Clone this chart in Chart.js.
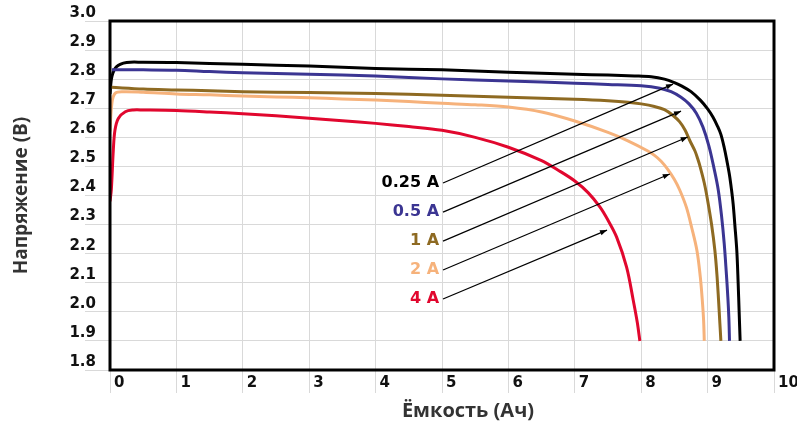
<!DOCTYPE html>
<html>
<head>
<meta charset="utf-8">
<script src="https://cdn.jsdelivr.net/npm/chart.js@4.4.1/dist/chart.umd.min.js"></script>
<style>
  html, body { margin: 0; padding: 0; background: #ffffff; }
  #wrap { width: 797px; height: 425px; }
</style>
</head>
<body>
<div id="wrap"><canvas id="c" width="797" height="425"></canvas></div>
<script>
// ---- Data ----
const seriesLabels = ['0.25 A', '0.5 A', '1 A', '2 A', '4 A'];
const seriesColors = ['#000000', '#3b3592', '#8e6a22', '#f6b27b', '#e1072e'];

const cap025 = [0, 0.03, 0.1, 0.25, 0.5, 1, 2, 3, 4, 5, 6, 7, 7.5, 7.9, 8.15, 8.35, 8.5, 8.62, 8.75, 8.89, 9.0, 9.08, 9.15, 9.2, 9.25, 9.29, 9.33, 9.36, 9.385, 9.41, 9.44, 9.46, 9.475, 9.49];
const volt025 = [2.75, 2.81, 2.843, 2.857, 2.858, 2.857, 2.851, 2.845, 2.837, 2.832, 2.824, 2.817, 2.814, 2.811, 2.808, 2.80, 2.788, 2.775, 2.757, 2.728, 2.698, 2.67, 2.638, 2.61, 2.565, 2.52, 2.47, 2.42, 2.37, 2.30, 2.21, 2.10, 2.00, 1.90];

const cap05 = [0.03, 0.5, 1, 1.5, 2, 3, 4, 5, 6, 7, 7.5, 8.0, 8.28, 8.45, 8.6, 8.72, 8.83, 8.93, 9.02, 9.1, 9.16, 9.21, 9.25, 9.28, 9.305, 9.32, 9.33];
const volt05 = [2.832, 2.832, 2.831, 2.826, 2.822, 2.817, 2.811, 2.801, 2.794, 2.786, 2.782, 2.777, 2.769, 2.757, 2.738, 2.715, 2.683, 2.635, 2.57, 2.49, 2.42, 2.33, 2.235, 2.14, 2.05, 1.98, 1.90];

const cap1 = [0.02, 0.5, 1, 1.5, 2, 3, 4, 5, 6, 7, 7.5, 7.8, 8.0, 8.2, 8.35, 8.48, 8.58, 8.66, 8.73, 8.81, 8.85, 8.89, 8.95, 9.0, 9.06, 9.11, 9.14, 9.165, 9.185, 9.2];
const volt1 = [2.772, 2.766, 2.763, 2.76, 2.757, 2.754, 2.751, 2.745, 2.738, 2.731, 2.726, 2.721, 2.715, 2.706, 2.695, 2.675, 2.653, 2.625, 2.59, 2.553, 2.527, 2.497, 2.443, 2.384, 2.30, 2.21, 2.13, 2.04, 1.96, 1.90];

const cap2 = [0, 0.03, 0.08, 0.2, 0.5, 1, 1.5, 2, 2.5, 3, 3.5, 4, 4.5, 5, 5.5, 6, 6.5, 7, 7.5, 7.8, 8.1, 8.2, 8.3, 8.4, 8.5, 8.58, 8.68, 8.76, 8.84, 8.89, 8.92, 8.94, 8.95];
const volt2 = [2.62, 2.72, 2.752, 2.757, 2.755, 2.749, 2.746, 2.742, 2.739, 2.736, 2.732, 2.728, 2.723, 2.717, 2.712, 2.704, 2.687, 2.656, 2.617, 2.588, 2.553, 2.538, 2.518, 2.49, 2.455, 2.419, 2.36, 2.29, 2.21, 2.12, 2.04, 1.97, 1.90];

const cap4 = [0, 0.02, 0.05, 0.075, 0.125, 0.23, 0.35, 0.5, 1, 1.5, 2, 2.5, 3, 3.5, 4, 4.5, 5, 5.5, 6, 6.5, 6.75, 7, 7.2, 7.38, 7.5, 7.63, 7.78, 7.88, 7.94, 7.98];
const volt4 = [2.38, 2.42, 2.557, 2.625, 2.665, 2.688, 2.694, 2.694, 2.692, 2.687, 2.681, 2.674, 2.666, 2.657, 2.648, 2.637, 2.624, 2.600, 2.566, 2.52, 2.487, 2.45, 2.41, 2.36, 2.315, 2.257, 2.154, 2.04, 1.965, 1.90];

// Callout label anchors (data coords) and arrow tips (data coords)
const calloutStartX = [4.955, 4.955, 4.955, 4.955, 4.955];
const calloutStartY = [2.443, 2.343, 2.243, 2.144, 2.044];
const calloutEndX = [8.48, 8.60, 8.70, 8.43, 7.485];
const calloutEndY = [2.783, 2.690, 2.601, 2.474, 2.281];

const yTicksMin = 1.8, yTicksMax = 3.0, yStep = 0.1;
const xTicksMin = 0, xTicksMax = 10, xStep = 1;

const xTitle = 'Ёмкость (Ач)';
const yTitle = 'Напряжение (В)';

// ---- Build datasets ----
const caps = [cap025, cap05, cap1, cap2, cap4];
const volts = [volt025, volt05, volt1, volt2, volt4];
const datasets = caps.map((cx, i) => ({
  label: seriesLabels[i],
  data: cx.map((x, j) => ({ x: x, y: volts[i][j] })),
  borderColor: seriesColors[i],
  backgroundColor: seriesColors[i],
  borderWidth: 3,
  pointRadius: 0,
  fill: false,
  tension: 0.35
})).reverse();

const calloutPlugin = {
  id: 'callouts',
  afterDatasetsDraw(chart) {
    const { ctx, scales: { x, y }, chartArea } = chart;
    ctx.save();
    // plot border
    ctx.strokeStyle = '#000';
    ctx.lineWidth = 3;
    ctx.strokeRect(chartArea.left, chartArea.top, chartArea.right - chartArea.left, chartArea.bottom - chartArea.top);
    for (let i = 0; i < seriesLabels.length; i++) {
      const sx = x.getPixelForValue(calloutStartX[i]);
      const sy = y.getPixelForValue(calloutStartY[i]);
      const ex = x.getPixelForValue(calloutEndX[i]);
      const ey = y.getPixelForValue(calloutEndY[i]);
      ctx.strokeStyle = '#000';
      ctx.fillStyle = '#000';
      ctx.lineWidth = 1.2;
      ctx.beginPath();
      ctx.moveTo(sx + 4, sy);
      ctx.lineTo(ex, ey);
      ctx.stroke();
      const ang = Math.atan2(ey - sy, ex - sx);
      const L = 7, W = 2.6;
      ctx.beginPath();
      ctx.moveTo(ex, ey);
      ctx.lineTo(ex - L * Math.cos(ang) + W * Math.sin(ang), ey - L * Math.sin(ang) - W * Math.cos(ang));
      ctx.lineTo(ex - L * Math.cos(ang) - W * Math.sin(ang), ey - L * Math.sin(ang) + W * Math.cos(ang));
      ctx.closePath();
      ctx.fill();
      ctx.font = 'bold 16px "DejaVu Sans"';
      ctx.textAlign = 'right';
      ctx.textBaseline = 'middle';
      ctx.fillStyle = seriesColors[i];
      ctx.fillText(seriesLabels[i], sx, sy);
    }
    ctx.restore();
  }
};

new Chart(document.getElementById('c'), {
  type: 'line',
  data: { datasets: datasets },
  options: {
    responsive: false,
    animation: false,
    devicePixelRatio: 1,
    layout: { padding: { top: 21, right: 23, left: 0, bottom: 0 } },
    plugins: { legend: { display: false }, tooltip: { enabled: false } },
    scales: {
      x: {
        type: 'linear',
        min: xTicksMin, max: xTicksMax,
        grid: { color: '#d9d9d9', lineWidth: 1, tickLength: 23, tickColor: '#d9d9d9', drawTicks: true },
        border: { display: false },
        ticks: {
          stepSize: xStep, align: 'start', labelOffset: 4, padding: -19,
          color: '#111', font: { family: '"DejaVu Sans"', weight: 'bold', size: 15 },
          maxRotation: 0, autoSkip: false
        },
        title: {
          display: true, text: '          ' + xTitle, color: '#333',
          font: { family: '"Liberation Sans Narrow", "Open Sans"', weight: 'bold', size: 20 },
          padding: { top: 0, bottom: 2 }
        },
        afterFit(scale) { scale.height = 55; scale.paddingLeft = 0; scale.paddingRight = 0; }
      },
      y: {
        type: 'linear',
        min: yTicksMin, max: yTicksMax,
        grid: { color: '#d9d9d9', lineWidth: 1, tickLength: 25, tickColor: '#d9d9d9', drawTicks: true },
        border: { display: false },
        ticks: {
          stepSize: yStep, labelOffset: -8, padding: -11,
          color: '#111', font: { family: '"DejaVu Sans"', weight: 'bold', size: 15 },
          callback: (v) => Number(v).toFixed(1), autoSkip: false
        },
        title: {
          display: true, text: yTitle, color: '#333',
          font: { family: '"Open Sans"', weight: 'bold', size: 19 },
          padding: { top: 10, bottom: 0 }
        },
        afterFit(scale) { scale.width = 110; scale.paddingTop = 0; scale.paddingBottom = 0; }
      }
    }
  },
  plugins: [calloutPlugin]
});
</script>
</body>
</html>
